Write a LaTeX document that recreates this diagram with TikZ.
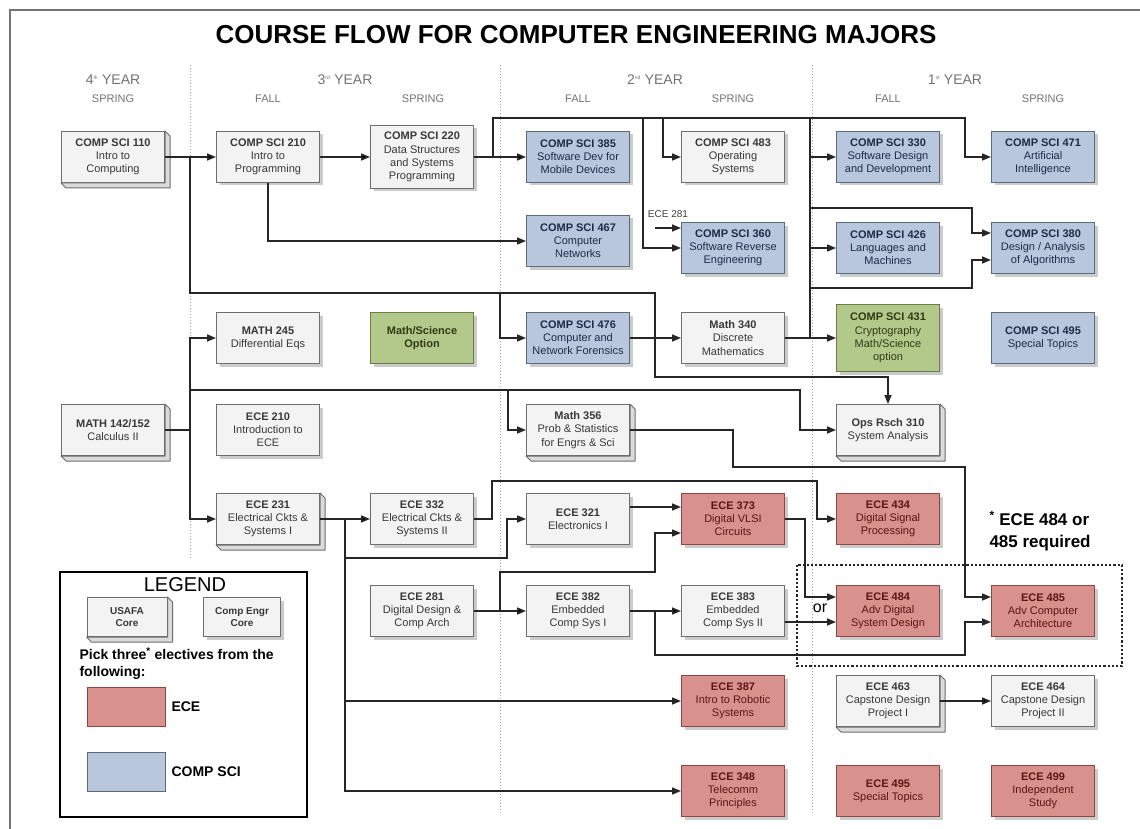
\documentclass[tikz,border=0pt]{standalone}
\usepackage{fontspec}
\setmainfont{Liberation Sans}
\usetikzlibrary{arrows.meta,shadows,positioning}

\definecolor{corefill}{HTML}{F3F3F3}
\definecolor{coreline}{HTML}{6E6E6E}
\definecolor{coretext}{HTML}{383838}
\definecolor{csblue}{HTML}{B8C7DC}
\definecolor{csline}{HTML}{5A6A80}
\definecolor{cstext}{HTML}{1E2B45}
\definecolor{ecered}{HTML}{D9918E}
\definecolor{eceline}{HTML}{8C4644}
\definecolor{ecetext}{HTML}{5C1414}
\definecolor{msgreen}{HTML}{B3C98C}
\definecolor{msline}{HTML}{6B7D45}
\definecolor{mstext}{HTML}{2E3B12}

\tikzset{
  course/.style={rectangle, draw=coreline, line width=1pt, minimum width=103pt,
    minimum height=51pt, inner sep=2pt, align=center,
    font=\fontsize{11}{13.2}\selectfont},
  softshadow/.style={drop shadow={shadow xshift=3pt, shadow yshift=-3pt,
    fill=black!45, opacity=.45}},
  core/.style={course, fill=corefill, text=coretext, softshadow},
  usafa/.style={course, fill=corefill, text=coretext},
  cssel/.style={course, fill=csblue, draw=csline, text=cstext, softshadow},
  ecesel/.style={course, fill=ecered, draw=eceline, text=ecetext, softshadow},
  mssel/.style={course, fill=msgreen, draw=msline, text=mstext, softshadow},
  flow/.style={draw=black!85, line width=1.6pt, -{Triangle[length=9pt, width=7pt]}},
  wire/.style={draw=black!85, line width=1.6pt},
  yearhd/.style={text=black!55, font=\fontsize{14}{16}\selectfont},
  termhd/.style={text=black!55, font=\fontsize{11}{13}\selectfont},
}

\begin{document}
\begin{tikzpicture}[x=1pt, y=-1pt]

      \useasboundingbox (0,0) rectangle (1140,829);
      \fill[white] (0,0) rectangle (1140,829);
      \draw[black!55, line width=1.5pt] (1140,10) -- (10,10) -- (10,829);

      \node[font=\bfseries\fontsize{26}{30}\selectfont] (title) at (576,35)
        {COURSE FLOW FOR COMPUTER ENGINEERING MAJORS};

      \draw[black!35, dotted, line width=1pt] (190,65) -- (190,560);
      \draw[black!35, dotted, line width=1pt] (500,65) -- (500,815);
      \draw[black!35, dotted, line width=1pt] (812,65) -- (812,815);

      \begin{scope}[every node/.style={yearhd}]
        \node (yr4) at (113,80) {4\textsuperscript{\tiny th} YEAR};
        \node (yr3) at (345,80) {3\textsuperscript{\tiny rd} YEAR};
        \node (yr2) at (655,80) {2\textsuperscript{\tiny nd} YEAR};
        \node (yr1) at (955,80) {1\textsuperscript{\tiny st} YEAR};
      \end{scope}

      \begin{scope}[every node/.style={termhd}]
        \node (t4s) at (113,99)  {SPRING};
        \node (t3f) at (268,99)  {FALL};
        \node (t3s) at (423,99)  {SPRING};
        \node (t2f) at (578,99)  {FALL};
        \node (t2s) at (733,99)  {SPRING};
        \node (t1f) at (888,99)  {FALL};
        \node (t1s) at (1043,99) {SPRING};
      \end{scope}

      \begin{scope}[every node/.style={usafa}]
        \node (cs110) at (113,157) {\textbf{COMP SCI 110}\\Intro to\\Computing};
        \node (m142)  at (113,430) {\textbf{MATH 142/152}\\Calculus II};
        \node (e231)  at (268,519) {\textbf{ECE 231}\\Electrical Ckts \&\\Systems I};
        \node (m356)  at (578,430) {\textbf{Math 356}\\Prob \& Statistics\\for Engrs \& Sci};
        \node (or310) at (888,430) {\textbf{Ops Rsch 310}\\System Analysis};
        \node (e463)  at (888,701) {\textbf{ECE 463}\\Capstone Design\\Project I};
      \end{scope}

      \begin{scope}[every node/.style={core}]
        \node (cs210) at (268,157) {\textbf{COMP SCI 210}\\Intro to\\Programming};
        \node[minimum height=63pt] (cs220) at (422,157)
          {\textbf{COMP SCI 220}\\Data Structures\\and Systems\\Programming};
        \node (cs483) at (733,157) {\textbf{COMP SCI 483}\\Operating\\Systems};
        \node (m245)  at (268,338) {\textbf{MATH 245}\\Differential Eqs};
        \node (m340)  at (733,338) {\textbf{Math 340}\\Discrete\\Mathematics};
        \node (e210)  at (268,430) {\textbf{ECE 210}\\Introduction to\\ECE};
        \node (e332)  at (422,519) {\textbf{ECE 332}\\Electrical Ckts \&\\Systems II};
        \node (e321)  at (578,519) {\textbf{ECE 321}\\Electronics I};
        \node (e281)  at (422,611) {\textbf{ECE 281}\\Digital Design \&\\Comp Arch};
        \node (e382)  at (578,611) {\textbf{ECE 382}\\Embedded\\Comp Sys I};
        \node (e383)  at (733,611) {\textbf{ECE 383}\\Embedded\\Comp Sys II};
        \node (e464)  at (1043,701) {\textbf{ECE 464}\\Capstone Design\\Project II};
      \end{scope}

      \begin{scope}[every node/.style={cssel}]
        \node (cs385) at (578,157)  {\textbf{COMP SCI 385}\\Software Dev for\\Mobile Devices};
        \node (cs330) at (888,157)  {\textbf{COMP SCI 330}\\Software Design\\and Development};
        \node (cs471) at (1043,157) {\textbf{COMP SCI 471}\\Artificial\\Intelligence};
        \node (cs467) at (578,241)  {\textbf{COMP SCI 467}\\Computer\\Networks};
        \node (cs360) at (733,248)  {\textbf{COMP SCI 360}\\Software Reverse\\Engineering};
        \node (cs426) at (888,248)  {\textbf{COMP SCI 426}\\Languages and\\Machines};
        \node (cs380) at (1043,248) {\textbf{COMP SCI 380}\\Design / Analysis\\of Algorithms};
        \node (cs476) at (578,338)  {\textbf{COMP SCI 476}\\Computer and\\Network Forensics};
        \node (cs495) at (1043,338) {\textbf{COMP SCI 495}\\Special Topics};
      \end{scope}

      \begin{scope}[every node/.style={mssel}]
        \node (msopt) at (422,338) {\textbf{Math/Science}\\\textbf{Option}};
        \node[minimum height=67pt] (cs431) at (888,338)
          {\textbf{COMP SCI 431}\\Cryptography\\Math/Science\\option};
      \end{scope}

      \begin{scope}[every node/.style={ecesel}]
        \node (e373) at (733,519)  {\textbf{ECE 373}\\Digital VLSI\\Circuits};
        \node (e434) at (888,519)  {\textbf{ECE 434}\\Digital Signal\\Processing};
        \node (e484) at (888,611)  {\textbf{ECE 484}\\Adv Digital\\System Design};
        \node (e485) at (1043,611) {\textbf{ECE 485}\\Adv Computer\\Architecture};
        \node (e387) at (733,701)  {\textbf{ECE 387}\\Intro to Robotic\\Systems};
        \node (e348) at (733,791)  {\textbf{ECE 348}\\Telecomm\\Principles};
        \node (e495) at (888,791)  {\textbf{ECE 495}\\Special Topics};
        \node (e499) at (1043,791) {\textbf{ECE 499}\\Independent\\Study};
      \end{scope}

      \node[draw=black, line width=2.5pt, minimum width=247pt, minimum height=245pt]
        (legend) at (183.5,694.5) {};
      \node[font=\fontsize{20}{24}\selectfont] (legtitle) at (185,585) {LEGEND};
      \node[usafa, minimum width=80pt, minimum height=39pt, font=\bfseries\fontsize{10}{12.5}\selectfont]
        (legusafa) at (127,617) {USAFA\\Core};
      \node[core, minimum width=77pt, minimum height=39pt, font=\bfseries\fontsize{10}{12.5}\selectfont]
        (legcore) at (242,617) {Comp Engr\\Core};
      \node[anchor=north west, align=left, font=\bfseries\fontsize{14}{17}\selectfont]
        (legpick) at (76,644) {Pick three\textsuperscript{*} electives from the\\following:};
      \node[draw=eceline, fill=ecered, minimum width=78pt, minimum height=39pt] (legece) at (126,707) {};
      \node[draw=csline, fill=csblue, minimum width=78pt, minimum height=39pt] (legcs) at (126,772) {};
      \node[anchor=west, font=\bfseries\fontsize{14}{17}\selectfont] (legecetxt) at (168,707) {ECE};
      \node[anchor=west, font=\bfseries\fontsize{14}{17}\selectfont] (legcstxt) at (168,772) {COMP SCI};

      \foreach \n in {cs110,m142,e231,m356,or310,e463,legusafa}
        \draw[draw=coreline, line width=1pt, fill=black!14, line join=round]
          (\n.north east) -- ++(5,5) -- ([shift={(5,5)}]\n.south east)
          -- ([shift={(5,5)}]\n.south west) -- (\n.south west)
          -- (\n.south east) -- cycle;

      \draw[black!85, dotted, line width=2.2pt] (797,565) rectangle (1122,666);
      \node[font=\fontsize{16}{18}\selectfont] (ortag) at (820,608) {or};
      \node[anchor=west, align=left, font=\bfseries\fontsize{17}{22}\selectfont]
        (reqnote) at (986,531) {\textsuperscript{*} ECE 484 or\\485 required};
      \node[font=\fontsize{10}{12}\selectfont, text=black!75] (e281tag) at (668,214) {ECE 281};
      \coordinate (e281in) at (655,228);

      \path[flow] (cs110) edge (cs210);
      \path[flow] (cs210) edge (cs220);
      \path[flow] (cs220) edge (cs385);
      \draw[flow] (cs110.east) -| (190,293) -| (655,377) -| (or310.north);
      \draw[flow] (500,293) |- (cs476);
      \draw[flow] (cs476) -- (m340);
      \draw[flow] (cs210.south) |- (cs467);

      \draw[flow] (493,157) |- (965,118) |- (cs471);
      \draw[flow] (663,118) |- (cs483);
      \draw[flow] (643,118) |- (cs360);
      \draw[flow] (e281in) -- (cs360.west |- e281in);
      \draw[flow] (810,118) |- (cs330);
      \draw[flow] (810,157) |- (cs426);
      \draw[wire] (810,248) -- (810,288);
      \draw[flow] (810,208) -| (972,233) -- (cs380.west |- 0,233);
      \draw[flow] (m340) -- (cs431);
      \draw[flow] (810,338) |- (972,288) |- (cs380.west |- 0,260);

      \draw[flow] (m142.east) -| (190,338) -- (m245);
      \draw[flow] (190,430) |- (e231);
      \draw[flow] (190,390) -| (800,430) -- (or310);
      \draw[flow] (508,390) |- (m356);
      \draw[flow] (m356.east) -| (733,467) -| (965,597) -- (e485.west |- 0,597);

      \path[flow] (e231) edge (e332);
      \draw[flow] (345,519) |- (e387);
      \draw[flow] (345,701) |- (e348);
      \draw[flow] (345,519) |- (507,558) |- (e321);
      \draw[flow] (e332.east) -| (492,481) -| (817,519) -- (e434);
      \draw[flow] (e321.east |- 0,507) -- (e373.west |- 0,507);
      \draw[flow] (500,611) |- (655,572) |- (e373.west |- 0,533);
      \path[flow] (e281) edge (e382);
      \path[flow] (e382) edge (e383);
      \draw[flow] (655,611) |- (965,655) |- (e485.west |- 0,622);
      \draw[flow] (e373.east) -| (805,597) -- (e484.west |- 0,597);
      \draw[flow] (e383.east |- 0,622) -- (e484.west |- 0,622);
      \path[flow] (e463) edge (e464);

    \end{tikzpicture}
\end{document}
